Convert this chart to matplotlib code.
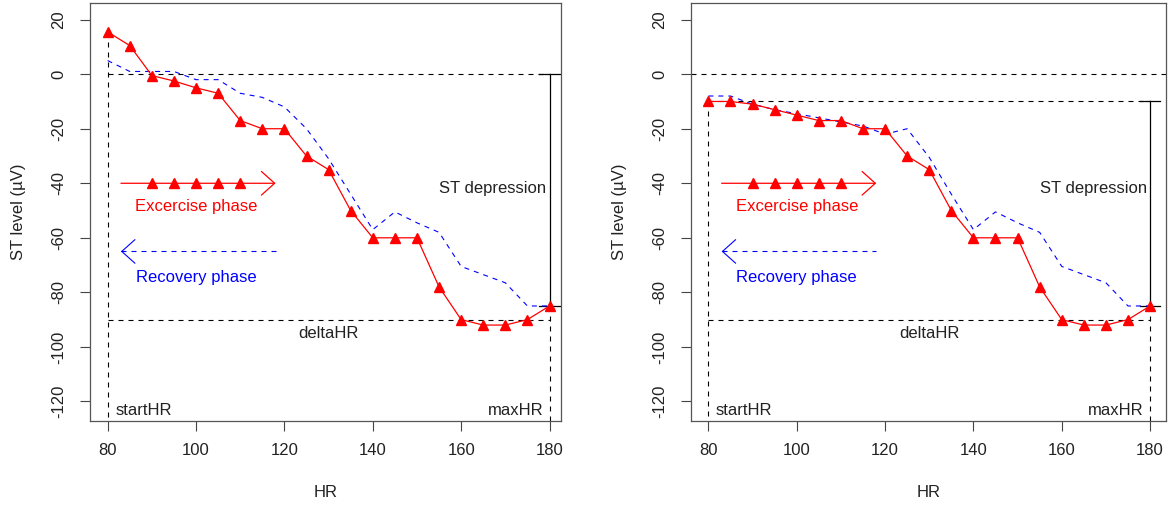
import numpy as np
import matplotlib
matplotlib.use("Agg")
import matplotlib.pyplot as plt

plt.rcParams['font.family'] = ['Liberation Sans', 'DejaVu Sans']

# heart rate grid (bpm)
hr = [80, 85, 90, 95, 100, 105, 110, 115, 120, 125, 130,
      135, 140, 145, 150, 155, 160, 165, 170, 175, 180]

# ST level, left panel (reference level 0)
ex_left = [15.5, 10.5, -0.5, -2.5, -5, -7, -17, -20, -20, -30, -35,
           -50, -60, -60, -60, -78, -90, -92, -92, -90, -85]
rec_left = [5, 1, 1, 1, -2, -2, -7, -8.5, -12, -20, -31,
            -44, -57, -50.5, -54.5, -58, -70.5, -73.5, -76.5, -85, -85]

# ST level, right panel (reference level = start value)
ex_right = [-10, -10, -11, -13, -15, -17, -17, -20, -20, -30, -35,
            -50, -60, -60, -60, -78, -90, -92, -92, -90, -85]
rec_right = [-8, -8, -11, -13, -14.5, -16, -17.5, -19, -22, -20, -30.5,
             -44, -57, -50.5, -54.5, -58, -70.5, -73.5, -76.5, -85, -85]

start_hr, max_hr = 80, 180
ref_left, ref_right = 0, -10
st_max = -85
delta_level = -90

xticks = [80, 100, 120, 140, 160, 180]
yticks = [20, 0, -20, -40, -60, -80, -100, -120]

# legend arrows
leg_x = (83, 118)
leg_marks = [90, 95, 100, 105, 110]
leg_y_ex, leg_y_rec = -40, -65

W, H = 1168, 507
fig = plt.figure(figsize=(W / 100, H / 100), dpi=100)

dash = (0, (4.5, 4.5))
txt = '#222222'
fs = 12
ylo, yhi = -127, 26
head = '->,head_length=0.95,head_width=0.85'


def panel(ax, ex, rec, ref, full_zero, xhi):
    ax.set_xlim(76, xhi)
    ax.set_ylim(ylo, yhi)

    # reference lines
    if full_zero:
        ax.axhline(0, color='black', lw=0.8, ls=dash)
    ax.plot([start_hr, max_hr], [ref, ref], color='black', lw=0.8, ls=dash)
    ax.plot([start_hr, max_hr], [delta_level, delta_level], color='black', lw=0.8, ls=dash)
    ax.plot([start_hr, start_hr], [ex[0], ylo], color='black', lw=0.8, ls=dash)
    ax.plot([max_hr, max_hr], [st_max, ylo], color='black', lw=0.8, ls=dash)

    # ST depression bar
    cap = 2.3
    ax.plot([max_hr, max_hr], [ref, st_max], color='black', lw=0.9)
    ax.plot([max_hr - cap, max_hr + cap], [ref, ref], color='black', lw=0.9)
    ax.plot([max_hr - cap, max_hr + cap], [st_max, st_max], color='black', lw=0.9)

    # curves
    ax.plot(hr, rec, color='blue', lw=0.8, ls=dash)
    ax.plot(hr, ex, color='red', lw=0.9, marker='^', ms=7, mec='red', mfc='red')

    # legend-like arrows
    ax.annotate('', xy=(leg_x[1], leg_y_ex), xytext=(leg_x[0], leg_y_ex),
                arrowprops=dict(arrowstyle=head, color='red', lw=0.9, shrinkA=0, shrinkB=0))
    ax.plot(leg_marks, [leg_y_ex] * len(leg_marks), ls='none', marker='^', ms=7, color='red')
    ax.text(100, -48.5, 'Excercise phase', color='red', fontsize=fs, ha='center', va='center')
    ax.plot(leg_x, [leg_y_rec, leg_y_rec], color='blue', lw=0.8, ls=dash)
    ax.annotate('', xy=(leg_x[0], leg_y_rec), xytext=(leg_x[0] + 0.5, leg_y_rec),
                arrowprops=dict(arrowstyle=head, color='blue', lw=0.8, shrinkA=0, shrinkB=0))
    ax.text(100, -74.5, 'Recovery phase', color='blue', fontsize=fs, ha='center', va='center')

    # annotations
    ax.text(179.3, -42, 'ST depression', color=txt, fontsize=fs, ha='right', va='center')
    ax.text(130, -95, 'deltaHR', color=txt, fontsize=fs, ha='center', va='center')
    ax.text(81.7, -123.3, 'startHR', color=txt, fontsize=fs, ha='left', va='center')
    ax.text(178.6, -123.3, 'maxHR', color=txt, fontsize=fs, ha='right', va='center')

    ax.set_xticks(xticks)
    ax.set_yticks(yticks)
    ax.set_yticklabels([str(v) for v in yticks], rotation=90, va='center')
    ax.tick_params(direction='out', length=7, width=0.8, color='#444444',
                   labelsize=fs, labelcolor=txt)
    ax.tick_params(axis='x', pad=9)
    ax.tick_params(axis='y', pad=10)
    for s in ax.spines.values():
        s.set_color('#555555')
        s.set_linewidth(0.9)

    ax.set_xlabel('HR', fontsize=fs, color=txt, va='center')
    ax.set_ylabel('ST level (µV)', fontsize=fs, color=txt, va='center')


bot = 1 - 420.5 / H
top = 1 - 3.3 / H
ax1 = fig.add_axes([90 / W, bot, (561 - 90) / W, top - bot])
ax2 = fig.add_axes([690.7 / W, bot, (1166 - 690.7) / W, top - bot])

panel(ax1, ex_left, rec_left, ref_left, False, 182.6)
panel(ax2, ex_right, rec_right, ref_right, True, 183.6)

ax1.xaxis.set_label_coords(0.5, (420.5 - 492) / 417)
ax2.xaxis.set_label_coords(0.5, (420.5 - 492) / 417)
ax1.yaxis.set_label_coords((19 - 90) / 471, 0.5)
ax2.yaxis.set_label_coords((620 - 690.7) / 475, 0.5)

fig.savefig('out.png', dpi=100)
